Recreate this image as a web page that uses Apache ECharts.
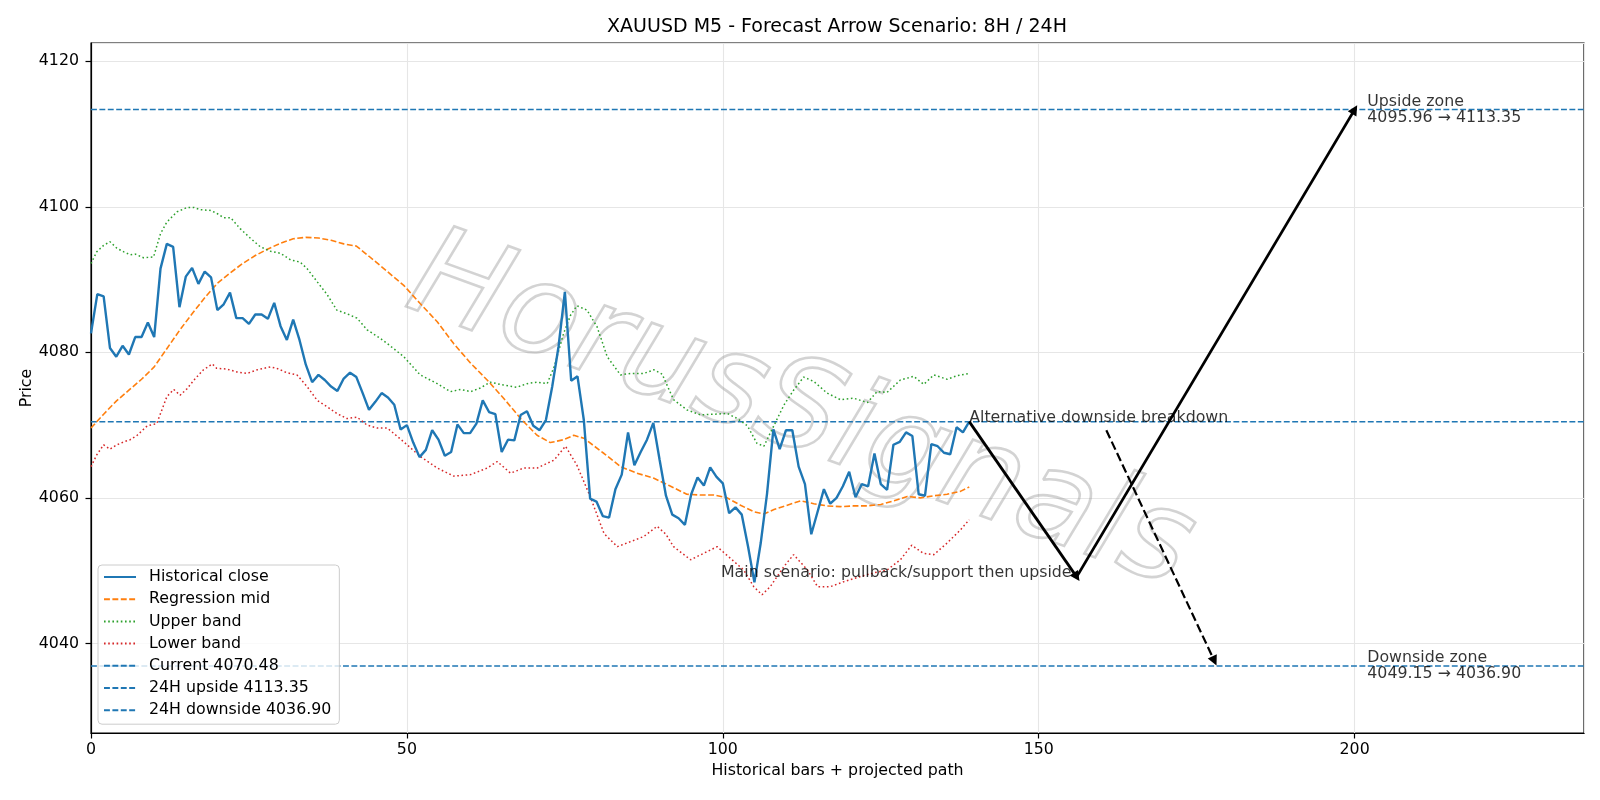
<!DOCTYPE html>
<html lang="en">

<head>
    <meta charset="UTF-8">
    <title>XAUUSD M5 forecast</title>
    <style>
        html,
        body {
            margin: 0;
            padding: 0;
            background: #fff;
        }

        #chart {
            width: 1600px;
            height: 800px;
        }
    </style>
</head>

<body>
    <div id="chart"></div>
    <script src="https://cdn.jsdelivr.net/npm/echarts@6.0.0/dist/echarts.min.js"></script>
    <script>
        // historical closes, one per bar (x = 0..139)
        const closes = [
            4082.6, 4088.0, 4087.7, 4080.6, 4079.4, 4080.9, 4079.7, 4082.1, 4082.1, 4084.1,
            4082.1, 4091.5, 4094.9, 4094.5, 4086.2, 4090.4, 4091.6, 4089.4, 4091.1, 4090.3,
            4085.8, 4086.6, 4088.2, 4084.7, 4084.7, 4083.9, 4085.2, 4085.2, 4084.6, 4086.8,
            4083.6, 4081.7, 4084.5, 4081.7, 4078.3, 4075.9, 4076.9, 4076.2, 4075.3, 4074.7,
            4076.4, 4077.2, 4076.6, 4074.4, 4072.1, 4073.2, 4074.4, 4073.8, 4072.8, 4069.4,
            4070.0, 4067.6, 4065.6, 4066.6, 4069.3, 4068.0, 4065.8, 4066.3, 4070.1, 4068.9,
            4068.9, 4070.2, 4073.4, 4071.8, 4071.5, 4066.3, 4068.0, 4067.9, 4071.4, 4071.9,
            4069.9, 4069.3, 4070.7, 4075.3, 4080.8, 4088.3, 4076.1, 4076.7, 4070.7, 4059.9,
            4059.5, 4057.5, 4057.3, 4061.2, 4063.2, 4069.0, 4064.5, 4066.3, 4068.0, 4070.3,
            4065.2, 4060.3, 4057.7, 4057.2, 4056.3, 4060.5, 4062.8, 4061.7, 4064.2, 4062.9,
            4062.0, 4057.9, 4058.7, 4057.7, 4053.3, 4048.4, 4053.8, 4060.6, 4069.4, 4066.7,
            4069.3, 4069.3, 4064.3, 4061.9, 4055.0, 4058.1, 4061.2, 4059.2, 4060.0, 4061.6,
            4063.6, 4060.1, 4061.9, 4061.6, 4066.1, 4061.9, 4061.1, 4067.3, 4067.7, 4069.0,
            4068.5, 4060.5, 4060.3, 4067.4, 4067.1, 4066.2, 4066.0, 4069.7, 4069.0, 4070.48
        ];

        // regression mid / bands as [bar, price]
        const regMid = [
            [0, 4069.6], [2, 4071.5], [4, 4073.3], [6, 4074.8], [8, 4076.3], [10, 4078.0], [12, 4080.5],
            [14, 4083.0], [16, 4085.3], [18, 4087.5], [20, 4089.5], [22, 4090.9], [24, 4092.2], [26, 4093.3],
            [28, 4094.2], [30, 4095.0], [32, 4095.6], [34, 4095.8], [36, 4095.7], [38, 4095.4], [40, 4094.9],
            [42, 4094.6], [44, 4093.2], [46.9, 4091.1], [49.5, 4089.2], [52.1, 4086.7], [54.8, 4084.2],
            [57.4, 4081.2], [60.1, 4078.5], [62.7, 4076.2], [65.3, 4073.7], [68, 4070.9], [70.6, 4068.6],
            [72.7, 4067.6], [74.8, 4068.0], [76.4, 4068.6], [78, 4068.2], [81.2, 4066.1], [83.8, 4064.3],
            [86.4, 4063.4], [89.1, 4062.7], [91.5, 4061.7], [94.3, 4060.5], [96.4, 4060.4], [98.6, 4060.4],
            [100.7, 4060.0], [102.8, 4059.0], [104.9, 4058.1], [106.5, 4057.8], [108.1, 4058.4], [110.2, 4059.0],
            [112.3, 4059.6], [114.4, 4059.2], [116.5, 4058.9], [118.6, 4058.8], [120.7, 4058.9], [122.8, 4058.9],
            [125, 4059.1], [127.1, 4059.6], [129.2, 4060.2], [131.3, 4060.0], [133.4, 4060.3], [135.5, 4060.5],
            [137.6, 4060.9], [139, 4061.5]
        ];

        const upperBand = [
            [0, 4092.2], [0.9, 4093.8], [2, 4094.7], [3, 4095.2], [4.1, 4094.3], [5.2, 4093.8], [6.2, 4093.4],
            [7, 4093.5], [8.3, 4093.0], [9.9, 4093.1], [11, 4096.3], [12, 4097.9], [13.6, 4099.3], [15.2, 4099.9],
            [16.3, 4099.9], [17.3, 4099.6], [18.9, 4099.5], [19.9, 4099.1], [21, 4098.5], [22.1, 4098.5],
            [23.6, 4097.0], [25.2, 4095.7], [26.8, 4094.5], [28.4, 4093.9], [30, 4093.6], [31.6, 4092.7],
            [33.1, 4092.4], [34.2, 4091.5], [35.8, 4089.7], [37.4, 4087.9], [38.9, 4085.8], [40.5, 4085.3],
            [42.1, 4084.7], [43.7, 4083.1], [45.8, 4081.9], [46.9, 4081.2], [49.5, 4079.4], [52.1, 4076.9],
            [54.8, 4075.7], [56.9, 4074.6], [58.5, 4074.9], [60.1, 4074.6], [61.6, 4075.1], [63.2, 4075.9],
            [65.3, 4075.5], [67.4, 4075.2], [69, 4075.7], [70.6, 4075.9], [72.2, 4075.7], [73.3, 4078.0],
            [74.8, 4082.6], [75.9, 4085.1], [76.9, 4086.4], [78.5, 4085.8], [80.1, 4083.5], [81.7, 4079.4],
            [83.8, 4076.9], [85.4, 4077.1], [87.5, 4077.1], [89.1, 4077.6], [90.4, 4077.0], [92.2, 4073.5],
            [94.3, 4072.1], [96.5, 4071.4], [98.6, 4071.5], [100.7, 4071.6], [102.3, 4070.9], [103.9, 4069.9],
            [105.4, 4067.5], [106.5, 4067.1], [107.5, 4068.9], [109.7, 4072.8], [111.2, 4074.8], [112.8, 4076.6],
            [114.4, 4076.0], [116.5, 4074.4], [118.6, 4073.5], [120.7, 4073.7], [122.9, 4073.1], [124.4, 4074.6],
            [126, 4074.5], [128.1, 4076.2], [130.2, 4076.7], [131.8, 4075.6], [133.4, 4076.9], [135.5, 4076.3],
            [137.1, 4076.8], [139, 4077.1]
        ];

        const lowerBand = [
            [0, 4064.3], [0.9, 4065.9], [2, 4067.3], [3, 4066.7], [4.1, 4067.3], [5.2, 4067.7], [6.2, 4068.0],
            [7.3, 4068.6], [8.9, 4069.9], [10.4, 4070.2], [12, 4073.9], [13.1, 4074.9], [14.1, 4074.1],
            [15.2, 4075.0], [16.3, 4076.2], [17.8, 4077.6], [19.2, 4078.4], [19.9, 4077.8], [21.5, 4077.7],
            [23.1, 4077.3], [24.7, 4077.1], [26.3, 4077.6], [28.4, 4078.0], [29.4, 4077.8], [31, 4077.2],
            [32.6, 4076.9], [34.2, 4075.3], [35.8, 4073.4], [37.4, 4072.5], [38.9, 4071.6], [40.5, 4070.9],
            [42.1, 4071.1], [43.7, 4070.0], [45.3, 4069.6], [46.9, 4069.6], [49.5, 4067.7], [52.1, 4065.7],
            [54.8, 4064.1], [57.4, 4063.0], [60.1, 4063.2], [62.7, 4064.1], [64.3, 4065.0], [66.4, 4063.4],
            [68.5, 4064.1], [70.6, 4064.1], [73.3, 4065.2], [75.1, 4067.1], [76.9, 4064.5], [79, 4060.2],
            [81.2, 4055.1], [83.3, 4053.3], [85.4, 4054.0], [87.5, 4054.7], [89.6, 4056.1], [91, 4055.0],
            [92.2, 4053.3], [94.9, 4051.5], [97, 4052.4], [99.1, 4053.3], [101.2, 4051.7], [103.3, 4050.1],
            [104.9, 4047.8], [106.2, 4046.7], [107.5, 4047.8], [109.7, 4050.6], [111.2, 4052.2], [113.4, 4050.1],
            [115, 4047.8], [117, 4047.8], [119.2, 4048.5], [121.8, 4049.2], [123.9, 4049.7], [126, 4050.1],
            [128.1, 4051.5], [129.9, 4053.5], [131.7, 4052.4], [133.4, 4052.2], [135.5, 4053.8], [137.6, 4055.6],
            [139, 4057.0]
        ];

        // levels
        const current = 4070.48;
        const upside24 = 4113.35;
        const downside24 = 4036.90;
        const upsideFrom = 4095.96;
        const downsideFrom = 4049.15;

        // projected paths [bar, price]
        const mainPath = [[139, 4070.48], [156, 4049.15], [200, 4113.35]];
        const altPath = [[160.7, 4069.3], [177.8, 4037.6]];

        const xMax = 236.3;
        const yMin = 4027.7;
        const yMax = 4122.5;
        const xTicks = 50;

        const FONT = '"DejaVu Sans", sans-serif';
        const FS = 15.8;
        const BLUE = '#1f77b4';

        const levelLine = v => [[0, v], [xMax, v]];

        const chart = echarts.init(document.getElementById('chart'), null, { renderer: 'canvas' });

        const option = {
            animation: false,
            textStyle: { fontFamily: FONT, color: '#000' },
            title: {
                text: 'XAUUSD M5 - Forecast Arrow Scenario: 8H / 24H',
                left: 832,
                textAlign: 'center',
                top: 13,
                textStyle: { fontFamily: FONT, fontSize: 19, fontWeight: 'normal', color: '#000' }
            },
            grid: {
                left: 91, right: 16, top: 43, bottom: 67,
                show: true, borderColor: '#000', borderWidth: 1.2, backgroundColor: 'transparent'
            },
            legend: {
                orient: 'vertical',
                left: 98,
                top: 565,
                padding: [4, 8, 6, 5],
                itemWidth: 32,
                itemHeight: 14,
                itemGap: 6.2,
                itemStyle: { opacity: 0 },
                backgroundColor: 'rgba(255,255,255,0.8)',
                borderColor: '#cccccc',
                borderWidth: 1,
                borderRadius: 4,
                textStyle: { fontFamily: FONT, fontSize: FS, lineHeight: 14, color: '#000', padding: [0, 0, 0, 8] },
                data: ['Historical close', 'Regression mid', 'Upper band', 'Lower band',
                    'Current ' + current.toFixed(2), '24H upside ' + upside24.toFixed(2),
                    '24H downside ' + downside24.toFixed(2)]
            },
            xAxis: {
                type: 'value',
                min: 0,
                max: xMax,
                interval: xTicks,
                name: 'Historical bars + projected path',
                nameLocation: 'middle',
                nameGap: 30,
                nameMoveOverlap: false,
                nameTextStyle: { fontFamily: FONT, fontSize: FS, color: '#000' },
                axisLine: { show: true, lineStyle: { color: '#000', width: 1.2 } },
                axisTick: { show: true, length: 5.5, lineStyle: { color: '#000', width: 1.2 } },
                axisLabel: { showMaxLabel: false, margin: 9, fontFamily: FONT, fontSize: FS, color: '#000' },
                splitLine: { show: true, lineStyle: { color: '#e6e6e6', width: 1.1 } }
            },
            yAxis: {
                type: 'value',
                min: yMin,
                max: yMax,
                name: 'Price',
                nameLocation: 'middle',
                nameGap: 56,
                nameMoveOverlap: false,
                nameTextStyle: { fontFamily: FONT, fontSize: FS, color: '#000' },
                axisLine: { show: true, lineStyle: { color: '#000', width: 1.2 } },
                axisTick: { show: true, length: 5.5, lineStyle: { color: '#000', width: 1.2 } },
                axisLabel: {
                    showMinLabel: false, showMaxLabel: false, margin: 12,
                    fontFamily: FONT, fontSize: FS, color: '#000',
                    formatter: v => String(v)
                },
                splitLine: { show: true, lineStyle: { color: '#e6e6e6', width: 1.1 } }
            },
            graphic: [{
                type: 'text',
                x: 800,
                y: 415,
                rotation: -20 * Math.PI / 180,
                silent: true,
                z: 1,
                style: {
                    text: 'HorusSignals',
                    fontFamily: FONT,
                    fontStyle: 'italic',
                    fontSize: 126,
                    align: 'center',
                    verticalAlign: 'middle',
                    fill: 'rgba(255,255,255,0)',
                    stroke: 'rgba(150,150,150,0.42)',
                    lineWidth: 2.6
                }
            }],
            series: [
                {
                    name: 'Historical close', type: 'line', symbol: 'none', z: 5,
                    data: closes.map((v, i) => [i, v]),
                    lineStyle: { color: BLUE, width: 2.4 }, itemStyle: { color: BLUE }
                },
                {
                    name: 'Regression mid', type: 'line', symbol: 'none', z: 4, data: regMid,
                    lineStyle: { color: '#ff7f0e', width: 1.6, type: [5.9, 2.5] }, itemStyle: { color: '#ff7f0e' }
                },
                {
                    name: 'Upper band', type: 'line', symbol: 'none', z: 4, data: upperBand,
                    lineStyle: { color: '#2ca02c', width: 1.5, type: [1.6, 2.6] }, itemStyle: { color: '#2ca02c' }
                },
                {
                    name: 'Lower band', type: 'line', symbol: 'none', z: 4, data: lowerBand,
                    lineStyle: { color: '#d62728', width: 1.5, type: [1.6, 2.6] }, itemStyle: { color: '#d62728' }
                },
                {
                    name: 'Current ' + current.toFixed(2), type: 'line', symbol: 'none', z: 3,
                    data: levelLine(current),
                    lineStyle: { color: BLUE, width: 1.5, type: [5.9, 2.5] }, itemStyle: { color: BLUE }
                },
                {
                    name: '24H upside ' + upside24.toFixed(2), type: 'line', symbol: 'none', z: 3,
                    data: levelLine(upside24),
                    lineStyle: { color: BLUE, width: 1.5, type: [5.9, 2.5] }, itemStyle: { color: BLUE }
                },
                {
                    name: '24H downside ' + downside24.toFixed(2), type: 'line', symbol: 'none', z: 3,
                    data: levelLine(downside24),
                    lineStyle: { color: BLUE, width: 1.5, type: [5.9, 2.5] }, itemStyle: { color: BLUE }
                },
                {
                    type: 'lines',
                    coordinateSystem: 'cartesian2d',
                    z: 6,
                    symbol: ['none', 'triangle'],
                    symbolSize: 10,
                    lineStyle: { color: '#000', width: 2.8, opacity: 1, curveness: 0 },
                    data: [
                        { coords: [mainPath[0], mainPath[1]] },
                        { coords: [mainPath[1], mainPath[2]] },
                        { coords: altPath, lineStyle: { width: 2.2, type: [8.8, 3.8] } }
                    ]
                },
                {
                    type: 'scatter',
                    symbolSize: 0,
                    z: 7,
                    silent: true,
                    label: { show: true, position: [0, 0], fontFamily: FONT, fontSize: FS, color: '#000' },
                    data: [
                        {
                            value: [139, current],
                            label: { formatter: 'Alternative downside breakdown', align: 'left', verticalAlign: 'bottom', offset: [0, 4], color: '#000' }
                        },
                        {
                            value: [155.2, downsideFrom],
                            label: { formatter: 'Main scenario: pullback/support then upside', align: 'right', verticalAlign: 'bottom', offset: [0, 4], color: '#000' }
                        },
                        {
                            value: [202, upside24],
                            label: {
                                formatter: 'Upside zone\n' + upsideFrom.toFixed(2) + ' → ' + upside24.toFixed(2),
                                align: 'left', verticalAlign: 'middle', lineHeight: 16, color: '#000'
                            }
                        },
                        {
                            value: [202, downside24],
                            label: {
                                formatter: 'Downside zone\n' + downsideFrom.toFixed(2) + ' → ' + downside24.toFixed(2),
                                align: 'left', verticalAlign: 'middle', lineHeight: 16, color: '#000'
                            }
                        }
                    ]
                }
            ]
        };

        chart.setOption(option);
    </script>
</body>

</html>
